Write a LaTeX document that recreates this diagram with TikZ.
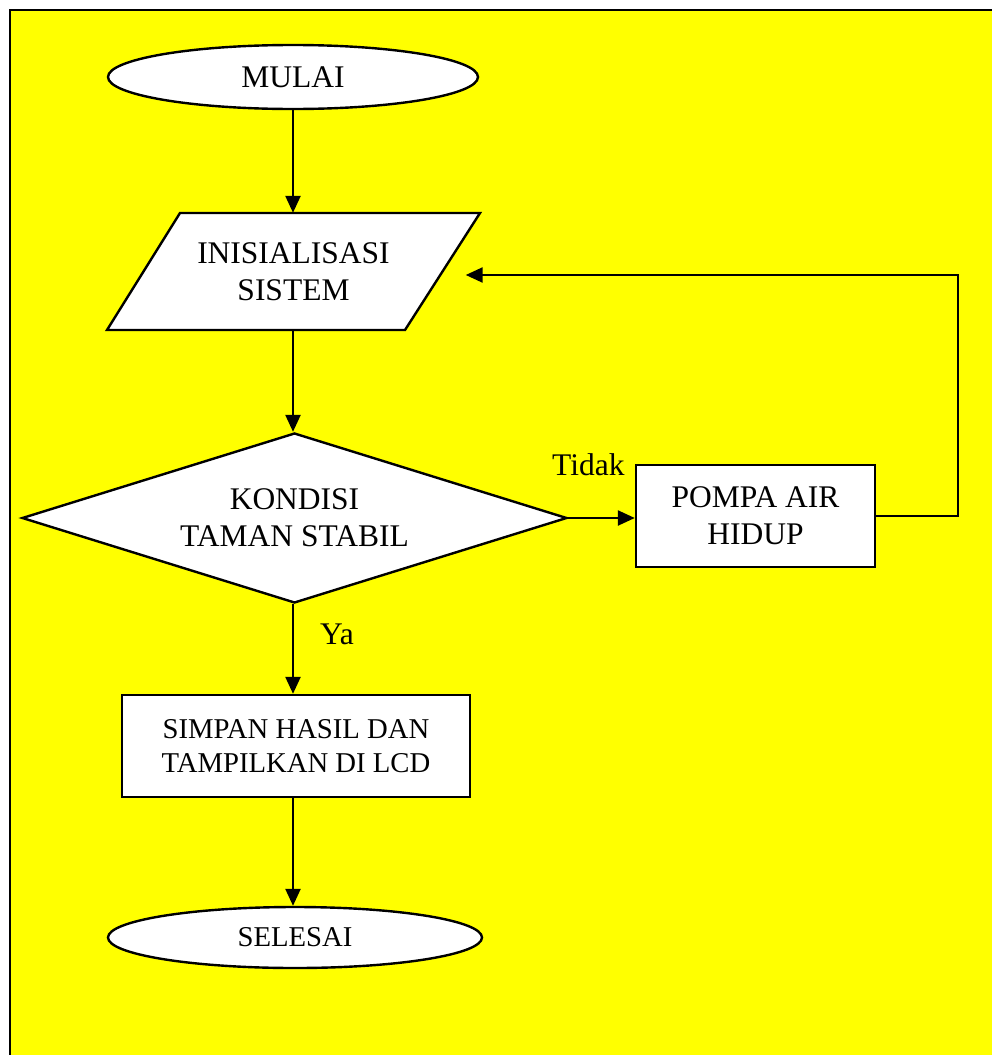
\documentclass[tikz,border=0pt]{standalone}
\usepackage{fontspec}
\setmainfont{Liberation Serif}
\usetikzlibrary{shapes.geometric,arrows.meta,calc}
\definecolor{bgyellow}{RGB}{255,255,0}
\begin{document}
\begin{tikzpicture}[x=1pt,y=-1pt,
  lw/.style={line width=2.4pt},
  base/.style={draw=black,lw,fill=white,inner sep=0pt,align=center,
    font=\fontsize{31.5}{37}\selectfont},
  term/.style={base,ellipse},
  procbox/.style={base,rectangle},
  decbox/.style={base,diamond,aspect=3.2},
  arr/.style={lw,-{Triangle[length=17pt,width=15pt]}},
  lbl/.style={inner sep=0pt,font=\fontsize{31.5}{37}\selectfont}]
\useasboundingbox (0,0) rectangle (992,1055);
\fill[bgyellow] (10,10) rectangle (992,1055);
\draw[lw] (10,1056) -- (10,10) -- (993,10);

\node[term,minimum width=370,minimum height=64] (mulai) at (293,77) {MULAI};
% parallelogram drawn as path, text node carries the name
\filldraw[fill=white,draw=black,lw,line join=miter] (180,213) -- (480,213) -- (405,330) -- (107,330) -- cycle;
\node[inner sep=0pt,align=center,font=\fontsize{31.5}{37}\selectfont,minimum width=300,minimum height=117] (init) at (293.5,271.5) {INISIALISASI\\SISTEM};
\node[decbox,minimum width=545,minimum height=170] (dec) at (294.5,518) {KONDISI\\TAMAN STABIL};
\node[procbox,minimum width=239,minimum height=102] (pompa) at (755.5,516) {POMPA AIR\\HIDUP};
\node[procbox,minimum width=348,minimum height=102,font=\fontsize{28.7}{34}\selectfont] (simpan) at (296,746) {SIMPAN HASIL DAN\\TAMPILKAN DI LCD};
\node[term,minimum width=374,minimum height=61,font=\fontsize{28.7}{34}\selectfont] (selesai) at (295,937.5) {SELESAI};

\node[lbl,anchor=base west] (tidak) at (552,475) {Tidak};
\node[lbl,anchor=base west] (ya) at (320,644) {Ya};

\draw[arr] (mulai.south) -- (mulai.south |- init.north);
\draw[arr] (init.south -| mulai.south) -- (mulai.south |- dec.north);
\draw[arr] (dec.east) -- (dec.east -| pompa.west);
\draw[arr] (pompa.east) -- ++(82,0) |- ($(init.east)+(22,3.5)$);
\draw[arr] (dec.south -| mulai.south) -- (mulai.south |- simpan.north);
\draw[arr] (simpan.south -| mulai.south) -- (mulai.south |- selesai.north);
\end{tikzpicture}
\end{document}
